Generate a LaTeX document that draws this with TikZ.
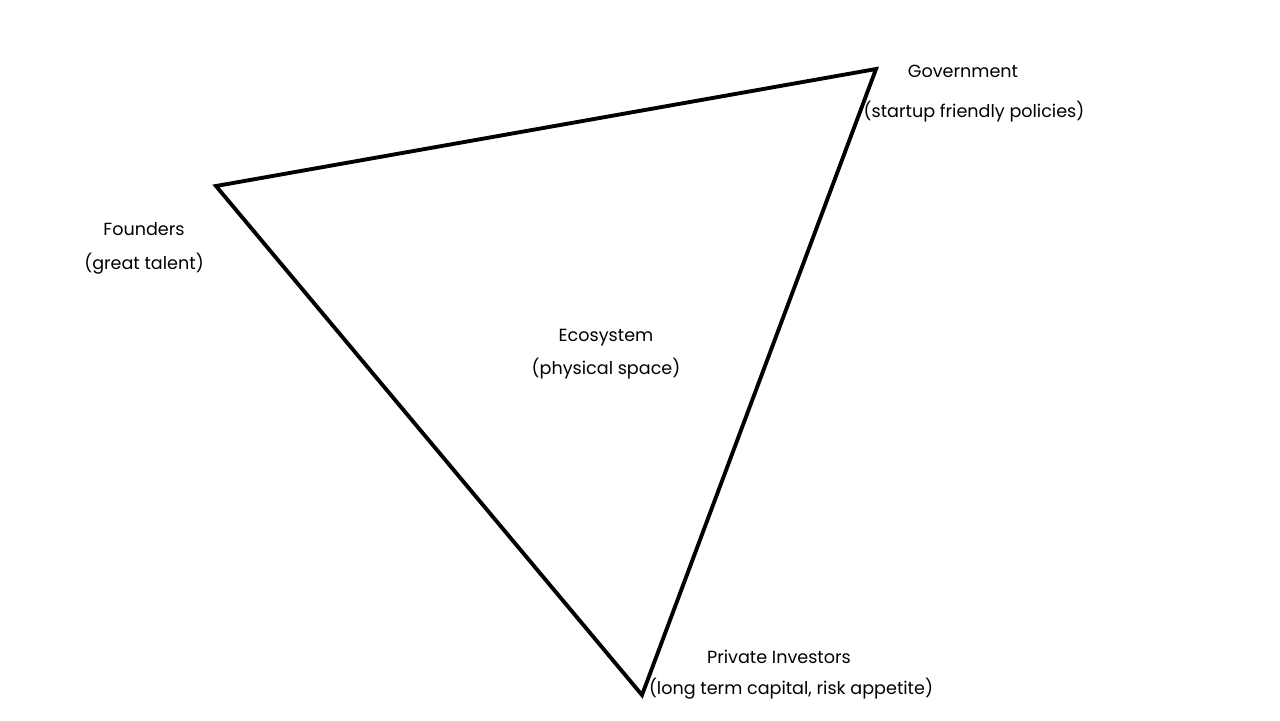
\documentclass[tikz,border=0pt]{standalone}
\usepackage{fontspec}
\setmainfont{Poppins}
\begin{document}
\begin{tikzpicture}[x=0.01cm,y=-0.01cm]
\tikzstyle{every node}=[inner sep=0pt,font=\fontsize{5}{6}\selectfont];
\useasboundingbox (0,0) rectangle (1280,720);
\coordinate (founders) at (216,186);
\coordinate (government) at (876,69);
\coordinate (investors) at (642,695);
\draw[line width=1.1pt,line join=miter] (founders) -- (government) -- (investors) -- cycle;
\node (f1) at (144,229) {Founders};
\node (f2) at (144,264) {(great talent)};
\node (g1) at (963,71) {Government};
\node (g2) at (974,112) {(startup friendly policies)};
\node (e1) at (606,338) {Ecosystem};
\node (e2) at (606,369) {(physical space)};
\node (p1) at (779,657) {Private Investors};
\node (p2) at (791,689) {(long term capital, risk appetite)};
\end{tikzpicture}
\end{document}
